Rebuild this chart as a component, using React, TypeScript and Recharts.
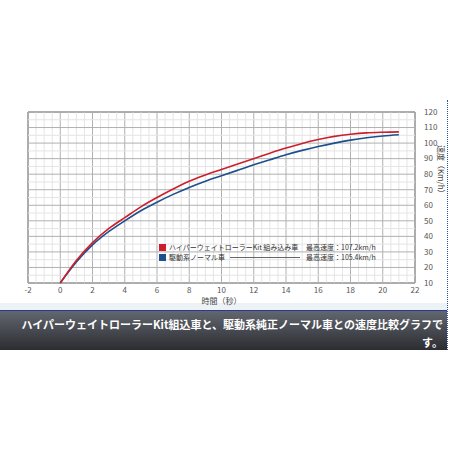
import React from 'react'
import { LineChart, Line, XAxis, YAxis, ReferenceLine, ReferenceArea } from 'recharts'

const times = [0, 1, 2, 3, 4, 5, 6, 7, 8, 9, 10, 11, 12, 13, 14, 15, 16, 17, 18, 19, 20, 21]
const kitSpeed = [10, 24.5, 36, 45, 52, 59, 65, 70.5, 75.5, 79.5, 83, 86.5, 90, 93.5, 96.8, 99.8, 102.3, 104.3, 105.7, 106.6, 107, 107.2]
const normalSpeed = [10, 23.5, 34.5, 43, 50, 56.5, 62, 67, 71.5, 75.5, 79, 82.5, 86, 89.3, 92.5, 95.3, 97.8, 100, 101.9, 103.4, 104.6, 105.4]

const xTicks = [-2, 0, 2, 4, 6, 8, 10, 12, 14, 16, 18, 20, 22]
const yTicks = [10, 20, 30, 40, 50, 60, 70, 80, 90, 100, 110, 120]
const xMinor = Array.from({ length: 49 }, (_, i) => -2 + i * 0.5)
const yMinor = Array.from({ length: 23 }, (_, i) => 10 + i * 5)

const kitLabel = 'ハイパーウェイトローラーKit 組み込み車'
const normalLabel = '駆動系ノーマル車'
const kitMax = '最高速度：107.2km/h'
const normalMax = '最高速度：105.4km/h'
const caption1 = 'ハイパーウェイトローラーKit組込車と、駆動系純正ノーマル車との速度比較グラフで'
const caption2 = 'す。'

const data = times.map((t, i) => ({ t, kit: kitSpeed[i], normal: normalSpeed[i] }))

const font = "'Noto Sans CJK JP', 'Noto Sans', sans-serif"
const tickStyle = { fontSize: 8, fill: '#555', fontFamily: font }
const red = '#cc1f2d'
const blue = '#1c4f8c'

export default function App() {
  return (
    <div style={{ position: 'absolute', left: 0, top: 0, width: 449, height: 449, background: '#fff', fontFamily: font, overflow: 'hidden' }}>
      <div style={{ position: 'absolute', left: 0, top: 303, width: 447, height: 7, background: '#edf2f6' }} />
      <div style={{
        position: 'absolute', left: 0, top: 310, width: 447, height: 40,
        borderTop: '1px solid #2c3990',
        background: 'linear-gradient(to bottom, #62666e, #2b2d31)',
        color: '#fff', fontWeight: 700, fontSize: 11, textAlign: 'right',
        lineHeight: '18px', paddingTop: 4, paddingRight: 4, boxSizing: 'border-box',
      }}>
        <div style={{ whiteSpace: 'nowrap' }}>{caption1}</div>
        <div>{caption2}</div>
      </div>
      <div style={{ position: 'absolute', left: 447, top: 100, width: 0, height: 250, borderLeft: '1px dotted #2950a8' }} />

      <div style={{ position: 'absolute', left: 0, top: 0 }}>
        <LineChart width={449} height={449} data={data} margin={{ top: 112, right: 4, bottom: 145, left: 28 }}>
          <XAxis
            dataKey="t" type="number" domain={[-2, 22]} ticks={xTicks} interval={0}
            axisLine={false} tickLine={false} tickSize={2} tick={tickStyle} tickMargin={2} height={21}
            label={{ value: '時間（秒）', position: 'insideBottom', offset: 0, style: { fontSize: 8, fill: '#444', fontFamily: font } }}
          />
          <YAxis
            orientation="right" type="number" domain={[10, 120]} ticks={yTicks} interval={0}
            axisLine={false} tickLine={false} tick={{ ...tickStyle, textAnchor: 'start' }} tickMargin={3} width={30}
            label={{ value: '速度（Km/h）', angle: 90, position: 'insideRight', offset: 4, style: { fontSize: 8, fill: '#444', fontFamily: font } }}
          />
          {xMinor.map(v => (
            <ReferenceLine key={'xm' + v} x={v} stroke={v % 2 === 0 ? '#b0b0b0' : '#e4e4e4'} strokeWidth={1} />
          ))}
          {yMinor.map(v => (
            <ReferenceLine key={'ym' + v} y={v} stroke={v % 10 === 0 ? '#b0b0b0' : '#e4e4e4'} strokeWidth={1} />
          ))}
          <ReferenceArea x1={-2} x2={22} y1={10} y2={120} fill="none" stroke="#555" strokeWidth={1} />
          <Line type="monotone" dataKey="normal" stroke={blue} strokeWidth={1.6} dot={false} isAnimationActive={false} />
          <Line type="monotone" dataKey="kit" stroke={red} strokeWidth={1.6} dot={false} isAnimationActive={false} />
        </LineChart>
      </div>

      <div style={{ position: 'absolute', left: 159, top: 242, width: 230, height: 20, fontSize: 7, color: '#333', lineHeight: '10px' }}>
        <span style={{ position: 'absolute', left: 0, top: 2, width: 7, height: 7, background: red }} />
        <span style={{ position: 'absolute', left: 10, top: 0, whiteSpace: 'nowrap' }}>{kitLabel}</span>
        <span style={{ position: 'absolute', left: 147, top: 0, whiteSpace: 'nowrap' }}>{kitMax}</span>
        <span style={{ position: 'absolute', left: 0, top: 12, width: 7, height: 7, background: blue }} />
        <span style={{ position: 'absolute', left: 10, top: 10, whiteSpace: 'nowrap' }}>{normalLabel}</span>
        <span style={{ position: 'absolute', left: 71, top: 15, width: 70, height: 0, borderTop: '1px solid #666' }} />
        <span style={{ position: 'absolute', left: 147, top: 10, whiteSpace: 'nowrap' }}>{normalMax}</span>
      </div>
    </div>
  )
}
